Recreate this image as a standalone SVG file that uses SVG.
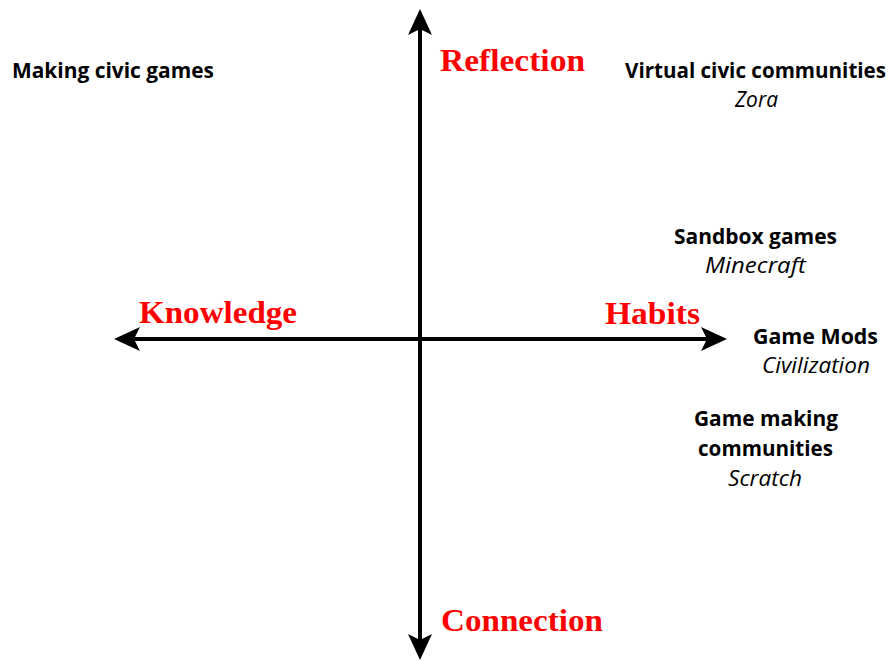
<svg xmlns="http://www.w3.org/2000/svg" width="892" height="661" viewBox="0 0 892 661">
<style>
.axis{stroke:#000;stroke-width:4;fill:none}
.head{fill:#000}
.pole{font-family:"Liberation Serif",serif;font-weight:bold;font-size:31px;fill:#ff0000}
.lbl{font-family:"Open Sans",Lato,sans-serif;font-weight:bold;font-size:22px;fill:#000;text-anchor:middle}
.ex{font-family:"Open Sans",Lato,sans-serif;font-style:italic;font-size:22px;fill:#000;text-anchor:middle}
</style>
<rect width="892" height="661" fill="#fff"/>
<g id="connectors">
<line class="axis" x1="420" y1="24" x2="420" y2="645"/>
<line class="axis" x1="129" y1="339" x2="712" y2="339"/>
<path class="head" d="M420,9 L432,35 L420,29 L408,35 Z"/>
<path class="head" d="M420,660 L432,634 L420,640 L408,634 Z"/>
<path class="head" d="M114,339 L140,327 L134,339 L140,351 Z"/>
<path class="head" d="M727,339 L701,327 L707,339 L701,351 Z"/>
</g>
<g id="reflection"><text class="pole" x="440" y="71" textLength="145" lengthAdjust="spacingAndGlyphs">Reflection</text></g>
<g id="knowledge"><text class="pole" x="139" y="323" textLength="158" lengthAdjust="spacingAndGlyphs">Knowledge</text></g>
<g id="habits"><text class="pole" x="605" y="324" textLength="95" lengthAdjust="spacingAndGlyphs">Habits</text></g>
<g id="connection"><text class="pole" x="441" y="631" textLength="162" lengthAdjust="spacingAndGlyphs">Connection</text></g>
<g id="making-civic-games"><text class="lbl" x="113" y="78" textLength="202" lengthAdjust="spacingAndGlyphs">Making civic games</text></g>
<g id="virtual-civic-communities">
<text class="lbl" x="886" y="78" style="text-anchor:end" textLength="261" lengthAdjust="spacingAndGlyphs">Virtual civic communities</text>
<text class="ex" x="756.5" y="107" textLength="43" lengthAdjust="spacingAndGlyphs">Zora</text>
</g>
<g id="sandbox-games">
<text class="lbl" x="755.5" y="244" textLength="163" lengthAdjust="spacingAndGlyphs">Sandbox games</text>
<text class="ex" x="755.5" y="273" textLength="101" lengthAdjust="spacingAndGlyphs">Minecraft</text>
</g>
<g id="game-mods">
<text class="lbl" x="815.5" y="344" textLength="125" lengthAdjust="spacingAndGlyphs">Game Mods</text>
<text class="ex" x="816" y="373" textLength="108" lengthAdjust="spacingAndGlyphs">Civilization</text>
</g>
<g id="game-making-communities">
<text class="lbl" x="766" y="426" textLength="144" lengthAdjust="spacingAndGlyphs">Game making</text>
<text class="lbl" x="765.5" y="456" textLength="135" lengthAdjust="spacingAndGlyphs">communities</text>
<text class="ex" x="765" y="486" textLength="74" lengthAdjust="spacingAndGlyphs">Scratch</text>
</g>
</svg>
